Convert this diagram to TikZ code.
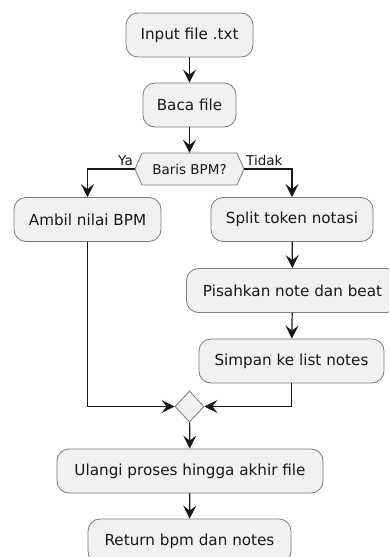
\documentclass[tikz,border=0pt]{standalone}
\usepackage{fontspec}
\setmainfont{DejaVu Sans}
\usetikzlibrary{arrows.meta,shapes.geometric,calc}
\definecolor{boxfill}{HTML}{F1F1F1}
\definecolor{lineclr}{HTML}{181818}
\definecolor{borderclr}{HTML}{7A7A7A}
\tikzset{
  actbox/.style={draw=borderclr,line width=0.8pt,fill=boxfill,rounded corners=12pt,
    minimum height=44pt,inner sep=0pt,font=\fontsize{15.2}{18}\selectfont,text=lineclr},
  flow/.style={draw=lineclr,line width=1.2pt,-{Stealth[length=13pt,width=13pt,inset=5pt]}},
  lbl/.style={inner sep=0pt,font=\fontsize{13.5}{16}\selectfont,text=lineclr},
}
\begin{document}
\begin{tikzpicture}[x=1pt,y=-1pt]
\useasboundingbox (0,0) rectangle (389,557);
\clip (0,0) rectangle (389,557);
\node[actbox,minimum width=127pt] (in) at (189.5,35) {Input file .txt};
\node[actbox,minimum width=93pt] (baca) at (189.5,105) {Baca file};
% decision hexagon
\coordinate (qc) at (189.5,169);
\draw[draw=borderclr,line width=0.8pt,fill=boxfill]
  ($(qc)+(-47.5,-16)$) -- ($(qc)+(47.5,-16)$) -- ($(qc)+(54.5,0)$) --
  ($(qc)+(47.5,16)$) -- ($(qc)+(-47.5,16)$) -- ($(qc)+(-54.5,0)$) -- cycle;
\node[inner sep=0pt,minimum width=109pt,minimum height=32pt,font=\fontsize{13.5}{16}\selectfont,text=lineclr] (q) at (qc) {Baris BPM?};
\node[actbox,minimum width=147pt] (ambil) at (87.5,219.5) {Ambil nilai BPM};
\node[actbox,minimum width=162pt] (split) at (292,219.5) {Split token notasi};
\node[actbox,minimum width=212pt] (pisah) at (292.5,290.5) {Pisahkan note dan beat};
\node[actbox,minimum width=185pt] (simpan) at (291.5,361) {Simpan ke list notes};
\node[diamond,draw=borderclr,line width=0.8pt,fill=boxfill,minimum width=29pt,minimum height=31pt,inner sep=0pt] (m) at (189.5,406.5) {};
\node[actbox,minimum width=266pt] (ulangi) at (190,471) {Ulangi proses hingga akhir file};
\node[actbox,minimum width=203pt] (ret) at (189.5,541) {Return bpm dan notes};
\node[lbl,anchor=south east] (ya) at (133,166) {Ya};
\node[lbl,anchor=south west] (tidak) at (246,166) {Tidak};
\draw[flow] (in) -- (baca);
\draw[flow] (baca) -- (q.north);
\draw[flow] (q.west) -| (ambil.north);
\draw[flow] (q.east) -| (split.north);
\draw[flow] (split) -- (pisah);
\draw[flow] (pisah) -- (simpan);
\draw[flow] (ambil.south) |- (m.west);
\draw[flow] (simpan.south) |- (m.east);
\draw[flow] (m) -- (ulangi);
\draw[flow] (ulangi) -- (ret);
\end{tikzpicture}
\end{document}
